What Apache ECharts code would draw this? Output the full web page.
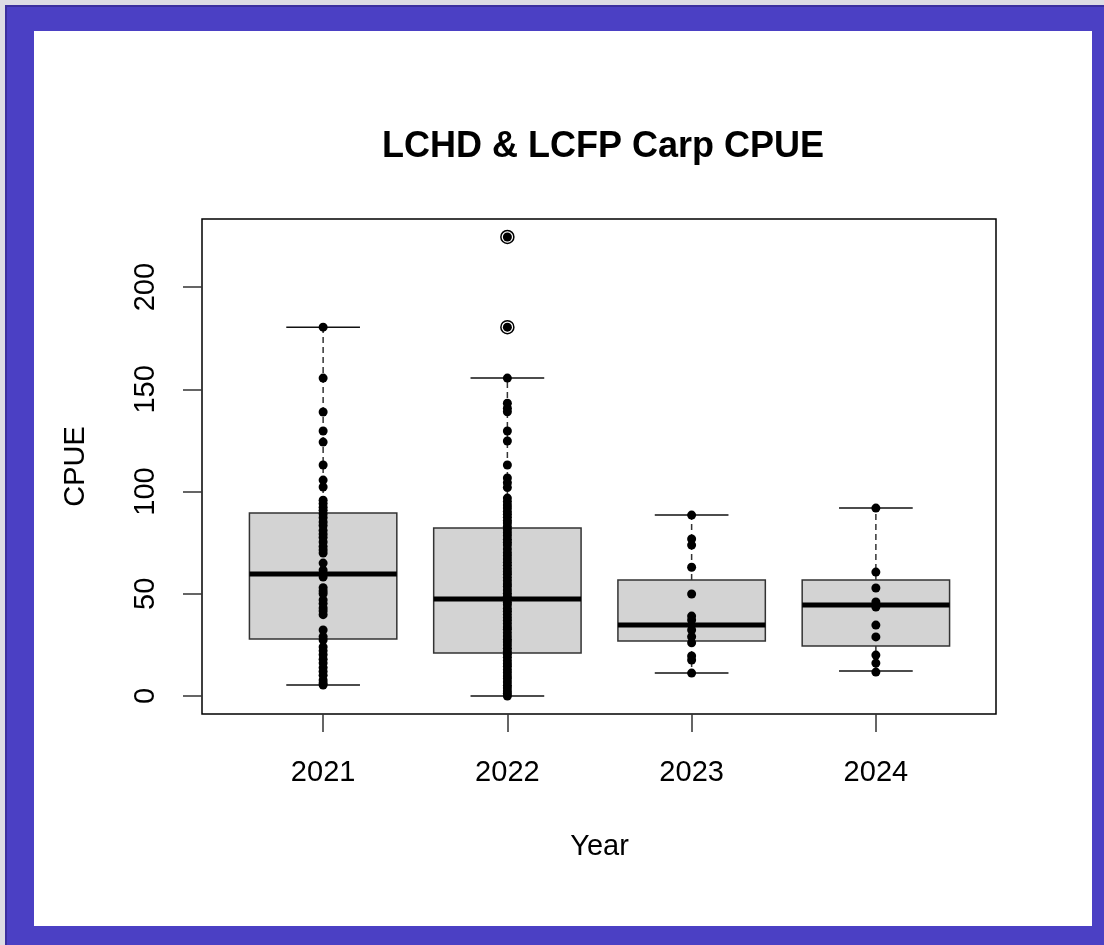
<!DOCTYPE html>
<html>
<head>
<meta charset="utf-8">
<script src="https://cdn.jsdelivr.net/npm/echarts@6/dist/echarts.min.js"></script>
<style>
  html, body { margin: 0; padding: 0; background: #dcdce4; }
  #frame { position: absolute; left: 5px; top: 5px; width: 1099px; height: 940px; background: #4b40c4; box-sizing: border-box; border-left: 2px solid #3a2f9e; border-top: 2px solid #3a2f9e; }
  #inner { position: absolute; left: 34px; top: 31px; width: 1058px; height: 895px; background: #ffffff; }
  #chart { position: absolute; left: 0; top: 0; width: 1104px; height: 945px; }
</style>
</head>
<body>
<div id="frame"></div>
<div id="inner"></div>
<div id="chart"></div>
<script>
// ---- Data ----
const years = ['2021', '2022', '2023', '2024'];
const yTicks = [0, 50, 100, 150, 200];

// Box statistics per year: lower whisker, Q1, median, Q3, upper whisker
const whiskerLow  = [5.4, 0.0, 11.2, 12.2];
const quart1      = [27.9, 21.0, 26.9, 24.4];
const medians     = [59.7, 47.4, 34.7, 44.5];
const quart3      = [89.5, 82.2, 56.7, 56.7];
const whiskerHigh = [180.4, 155.5, 88.5, 91.9];

// Outliers (open circles), year index + value
const outlierYear  = [1, 1];
const outlierValue = [224.5, 180.4];

// Individual observations (stripchart overlay)
const points2021 = [180.4, 155.5, 138.9, 129.6, 124.2, 113.0, 105.6, 102.2, 95.8, 94.1, 92.3, 90.8, 89.0, 87.2, 85.1, 83.4, 81.0, 79.2, 77.5, 75.3, 73.1, 71.4, 69.9, 65.0, 61.6, 60.0, 58.2, 53.0, 51.4, 50.0, 47.0, 45.2, 43.1, 41.6, 39.8, 32.3, 29.0, 27.4, 24.0, 22.1, 20.2, 18.0, 16.1, 13.9, 12.0, 10.1, 7.8, 6.4, 5.4];
const points2022 = [224.5, 180.4, 155.5, 143.2, 140.8, 139.0, 129.6, 124.7, 113.0, 106.6, 104.3, 102.0, 96.8, 95.1, 93.4, 92.0, 90.3, 88.9, 87.4, 85.8, 84.6, 82.9, 81.3, 79.8, 78.4, 76.7, 75.2, 73.8, 71.9, 70.1, 68.6, 67.0, 65.4, 63.9, 62.3, 60.8, 59.6, 57.9, 56.4, 54.8, 53.6, 51.9, 50.3, 48.8, 47.4, 45.9, 44.6, 42.8, 41.5, 39.9, 38.3, 36.9, 35.4, 33.8, 32.6, 30.9, 29.3, 27.8, 26.4, 24.9, 23.3, 21.8, 20.4, 18.9, 17.3, 15.8, 14.6, 12.9, 11.4, 9.8, 8.5, 6.9, 5.3, 3.9, 2.4, 1.2, 0.0];
const points2023 = [88.5, 76.8, 73.8, 63.0, 49.9, 39.1, 37.2, 34.7, 32.3, 29.0, 26.0, 19.6, 17.6, 11.2];
const points2024 = [91.9, 60.6, 52.8, 46.0, 43.5, 34.7, 28.9, 20.0, 16.1, 11.7];

const titleText = 'LCHD & LCFP Carp CPUE';
const xName = 'Year';
const yName = 'CPUE';

// ---- Build series data from arrays ----
const boxData = years.map((y, i) => [i, whiskerLow[i], quart1[i], medians[i], quart3[i], whiskerHigh[i]]);
const pointSets = [points2021, points2022, points2023, points2024];
const pointData = [];
pointSets.forEach((arr, i) => arr.forEach(v => pointData.push([i, v])));
const outlierData = outlierYear.map((yi, k) => [yi, outlierValue[k]]);

const Y_MIN = -8.8, Y_MAX = 233.3;
const FONT = '"Liberation Sans", Arial, sans-serif';

const chart = echarts.init(document.getElementById('chart'), null, { renderer: 'canvas' });

function renderBox(params, api) {
  const x = api.value(0);
  const band = api.size([1, 0])[0];
  const boxW = band * 0.8;
  const capW = band * 0.4;
  const pLow = api.coord([x, api.value(1)]);
  const pQ1 = api.coord([x, api.value(2)]);
  const pMed = api.coord([x, api.value(3)]);
  const pQ3 = api.coord([x, api.value(4)]);
  const pHigh = api.coord([x, api.value(5)]);
  const cx = pMed[0];
  const dash = { stroke: '#333', lineWidth: 1.5, lineDash: [6, 4] };
  const solid = { stroke: '#111', lineWidth: 1.5 };
  return {
    type: 'group',
    children: [
      { type: 'line', shape: { x1: cx, y1: pQ3[1], x2: cx, y2: pHigh[1] }, style: dash },
      { type: 'line', shape: { x1: cx, y1: pQ1[1], x2: cx, y2: pLow[1] }, style: dash },
      { type: 'line', shape: { x1: cx - capW / 2, y1: pHigh[1], x2: cx + capW / 2, y2: pHigh[1] }, style: solid },
      { type: 'line', shape: { x1: cx - capW / 2, y1: pLow[1], x2: cx + capW / 2, y2: pLow[1] }, style: solid },
      { type: 'rect', shape: { x: cx - boxW / 2, y: pQ3[1], width: boxW, height: pQ1[1] - pQ3[1] },
        style: { fill: '#d3d3d3', stroke: '#333', lineWidth: 1.5 } },
      { type: 'line', shape: { x1: cx - boxW / 2, y1: pMed[1], x2: cx + boxW / 2, y2: pMed[1] },
        style: { stroke: '#000', lineWidth: 5 } }
    ]
  };
}

const option = {
  animation: false,
  backgroundColor: 'transparent',
  textStyle: { fontFamily: FONT },
  title: {
    text: titleText,
    left: 377,
    top: 124,
    textStyle: { fontSize: 36, fontWeight: 'bold', color: '#000', fontFamily: FONT }
  },
  grid: [
    { left: 231, top: 219, width: 737, height: 495, containLabel: false },
    { left: 202, top: 219, width: 794, height: 495, show: true, borderColor: '#000', borderWidth: 1.5, backgroundColor: 'transparent', containLabel: false }
  ],
  xAxis: [
    {
      type: 'category', gridIndex: 0, data: years, boundaryGap: true,
      axisLine: { show: false, onZero: false },
      axisTick: { show: true, alignWithLabel: true, length: 18, lineStyle: { color: '#333', width: 1.5 } },
      axisLabel: { fontSize: 29, color: '#000', margin: 44, fontFamily: FONT },
      name: xName, nameLocation: 'middle', nameGap: 118,
      nameTextStyle: { fontSize: 29, color: '#000', fontFamily: FONT }
    },
    { type: 'value', gridIndex: 1, show: false, min: 0, max: 1 }
  ],
  yAxis: [
    { type: 'value', gridIndex: 0, min: Y_MIN, max: Y_MAX, show: false },
    {
      type: 'value', gridIndex: 1, min: Y_MIN, max: Y_MAX,
      axisLine: { show: false, onZero: false },
      splitLine: { show: false },
      axisTick: { show: true, customValues: yTicks, length: 19, lineStyle: { color: '#333', width: 1.5 } },
      axisLabel: { customValues: yTicks, rotate: 90, fontSize: 29, color: '#000', margin: 42, fontFamily: FONT },
      name: yName, nameLocation: 'middle', nameGap: 112, nameRotate: 90,
      nameTextStyle: { fontSize: 29, color: '#000', fontFamily: FONT }
    }
  ],
  series: [
    {
      type: 'custom', xAxisIndex: 0, yAxisIndex: 0, z: 2,
      renderItem: renderBox,
      encode: { x: 0, y: [1, 2, 3, 4, 5] },
      data: boxData
    },
    {
      type: 'scatter', xAxisIndex: 0, yAxisIndex: 0, z: 4,
      symbol: 'circle', symbolSize: 13,
      itemStyle: { color: 'rgba(0,0,0,0)', borderColor: '#000', borderWidth: 1.5, opacity: 1 },
      data: outlierData
    },
    {
      type: 'scatter', xAxisIndex: 0, yAxisIndex: 0, z: 5,
      symbol: 'circle', symbolSize: 9,
      itemStyle: { color: '#000', opacity: 1 },
      data: pointData
    }
  ]
};
chart.setOption(option);
</script>
</body>
</html>
